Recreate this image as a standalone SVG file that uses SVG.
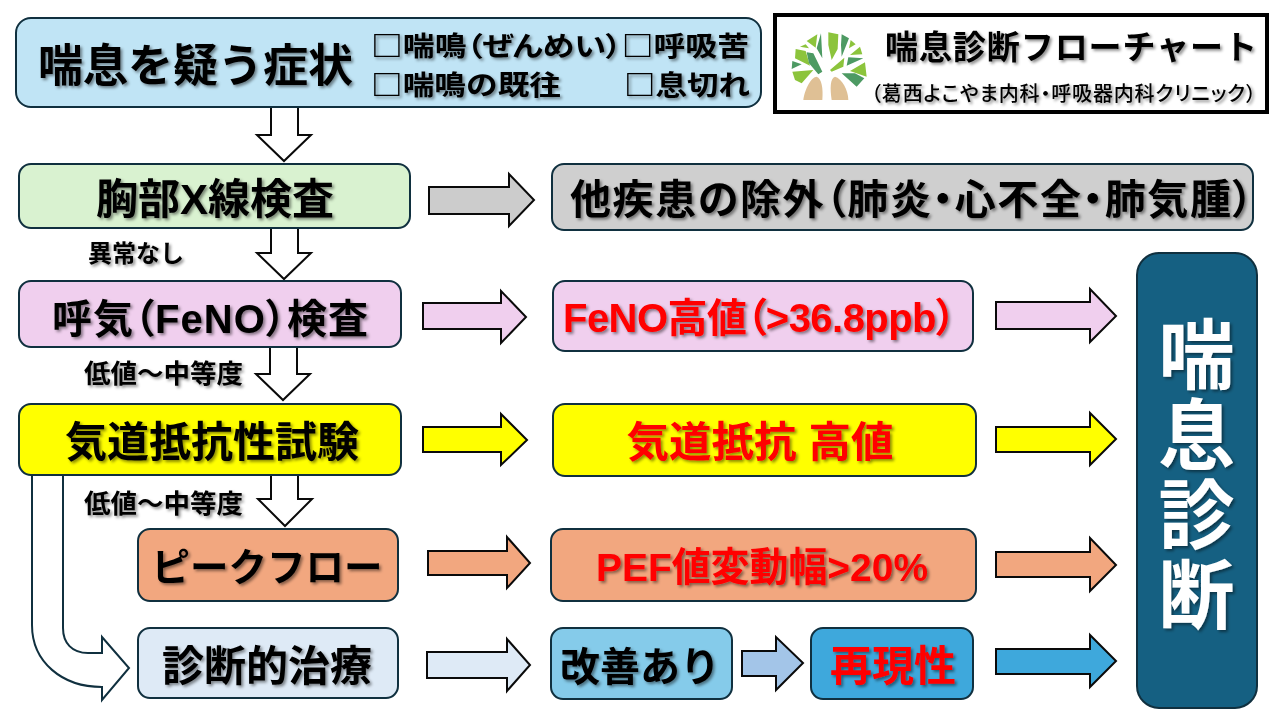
<svg xmlns="http://www.w3.org/2000/svg" width="1280" height="720" viewBox="0 0 1280 720">
<style>
text{font-family:"Liberation Sans","Noto Sans CJK JP","Noto Sans",sans-serif;font-weight:700;fill:#000;filter:url(#ts)}
.box{stroke:#10303f;stroke-width:2}
.ar{stroke:#0a0a0a;stroke-width:2}
.m{text-anchor:middle}
.p{font-feature-settings:"palt"}
.r{fill:#f00}
.w{fill:#fff}
.c{font-family:"Noto Sans CJK JP",sans-serif}
.lg{fill:#8cc43c}
.dg{fill:#4d9a63}
.tan{fill:#dfc095}
</style>
<defs>
<filter id="ts" x="-10%" y="-10%" width="120%" height="130%"><feDropShadow dx="2" dy="2" stdDeviation="1.5" flood-color="#000" flood-opacity=".45"/></filter>
</defs>
<rect width="1280" height="720" fill="#fff"/>
<g id="connectors">
<path class="ar" fill="#fff" d="M271 107H298V135H311L284 161L257 135H271Z"/>
<path class="ar" fill="#fff" d="M271 228H298V253H311L284 279L257 253H271Z"/>
<path class="ar" fill="#fff" d="M270 347H297V374H310L283 400L256 374H270Z"/>
<path class="ar" fill="#fff" d="M271 475H298V499H312L285 526L258 499H271Z"/>
<path class="ar" fill="#ccc" d="M429 187H509V174L534 200L509 226V214H429Z"/>
<path class="ar" fill="#f0cfee" d="M423 303H501V291L526 317L501 343V329H423Z"/>
<path class="ar" fill="#ffff00" d="M423 427H501V414L527 440L501 465V452H423Z"/>
<path class="ar" fill="#f2a77f" d="M428 551H507V537L530 563L507 588V575H428Z"/>
<path class="ar" fill="#deeaf6" d="M427 652H507V639L530 665L507 691V678H427Z"/>
<path class="ar" fill="#f0cfee" d="M996 302H1090V289L1116 316L1090 342V329H996Z"/>
<path class="ar" fill="#ffff00" d="M996 427H1090V413L1116 439L1090 465V452H996Z"/>
<path class="ar" fill="#f2a77f" d="M996 552H1090V538L1116 565L1090 591V577H996Z"/>
<path class="ar" fill="#3ea8dc" d="M996 649H1090V635L1116 661L1090 687V674H996Z"/>
<path class="ar" fill="#a3c5e8" d="M742 651H776V637L803 663L776 690V676H742Z"/>
<path class="box" fill="#fff" d="M32 475V625C32 662 62 687 102 687V700L129 668L102 637V653H88C72 653 63 643 63 628V475Z"/>
</g>
<g id="n-symptoms">
<rect class="box" x="16" y="18" width="745" height="89" rx="15" fill="#c0e4f5"/>
<text x="38" y="82" font-size="45">喘息を疑う症状</text>
<text class="p c" x="371" y="56" font-size="27" textLength="378" lengthAdjust="spacingAndGlyphs">□喘鳴（ぜんめい）□呼吸苦</text>
<text class="c" x="371" y="95" font-size="27" textLength="190" lengthAdjust="spacingAndGlyphs">□喘鳴の既往</text>
<text class="c" x="624" y="95" font-size="27" textLength="126" lengthAdjust="spacingAndGlyphs">□息切れ</text>
</g>
<g id="n-title">
<rect x="775" y="15" width="492" height="97" fill="#fff" stroke="#000" stroke-width="4"/>
<g id="logo" transform="translate(785 25) scale(.3333)">
<path class="lg" d="M65 48L97 28L92 68ZM130 22L160 28L158 72L140 105L130 60ZM197 45L212 58L192 70ZM195 90L225 65L232 88ZM45 65L62 58L72 70ZM32 72L62 78L75 122L30 100ZM22 140L85 135L50 175L30 165ZM178 98L135 135L140 140L175 125ZM240 112L245 155L195 138Z"/>
<path class="dg" d="M108 25L112 100L95 70ZM170 28L192 40L170 95L168 60ZM65 82L85 85L112 140L100 148L72 115ZM22 108L50 118L20 132ZM190 97L235 100L185 122ZM170 145L210 145L238 160L215 185Z"/>
<path class="tan" d="M55 225C60 190 80 155 95 155C110 160 115 190 112 225ZM140 225C135 190 135 160 150 155C170 160 190 195 190 225Z"/>
</g>
<text x="885" y="59" font-size="33" textLength="372" lengthAdjust="spacing">喘息診断フローチャート</text>
<text class="p" x="871" y="101" font-size="20" textLength="385" lengthAdjust="spacing" style="font-weight:500">（葛西よこやま内科・呼吸器内科クリニック）</text>
</g>
<g id="n-xray">
<rect class="box" x="19" y="164" width="391" height="64" rx="12" fill="#d9f2d0"/>
<text class="m" x="215" y="214" font-size="42">胸部X線検査</text>
</g>
<g id="n-exclude">
<rect class="box" x="552" y="164" width="701" height="66" rx="12" fill="#cfcfcf"/>
<text class="p" x="570" y="214" font-size="41" textLength="683" lengthAdjust="spacing">他疾患の除外（肺炎・心不全・肺気腫）</text>
</g>
<text x="88" y="262" font-size="24">異常なし</text>
<g id="n-feno">
<rect class="box" x="19" y="281" width="382" height="66" rx="12" fill="#f0cfee"/>
<text class="p" x="52" y="333" font-size="40" textLength="316" lengthAdjust="spacing">呼気（FeNO）検査</text>
</g>
<g id="n-feno-high">
<rect class="box" x="553" y="281" width="420" height="70" rx="12" fill="#f0cfee"/>
<text class="r p" x="563" y="332" font-size="40" textLength="393" lengthAdjust="spacing">FeNO高値（&gt;36.8ppb）</text>
</g>
<text x="84" y="383" font-size="26.500">低値～中等度</text>
<g id="n-resist">
<rect class="box" x="19" y="404" width="382" height="71" rx="12" fill="#ffff00"/>
<text class="m" x="212" y="457" font-size="42">気道抵抗性試験</text>
</g>
<g id="n-resist-high">
<rect class="box" x="553" y="404" width="423" height="72" rx="12" fill="#ffff00"/>
<text class="m r" x="760" y="457" font-size="42.500">気道抵抗 高値</text>
</g>
<text x="84" y="513" font-size="26.500">低値～中等度</text>
<g id="n-peak">
<rect class="box" x="138" y="529" width="260" height="72" rx="12" fill="#f2a77f"/>
<text class="m" x="267" y="581" font-size="38.500">ピークフロー</text>
</g>
<g id="n-pef">
<rect class="box" x="551" y="529" width="425" height="72" rx="12" fill="#f2a77f"/>
<text class="r" x="596" y="581" font-size="39.500" textLength="332" lengthAdjust="spacingAndGlyphs">PEF値変動幅&gt;20%</text>
</g>
<g id="n-treat">
<rect class="box" x="138" y="628" width="260" height="70" rx="12" fill="#deeaf6"/>
<text class="m" x="267" y="681" font-size="42">診断的治療</text>
</g>
<g id="n-improve">
<rect class="box" x="551" y="628" width="181" height="71" rx="12" fill="#85cbea"/>
<text class="m" x="640" y="681" font-size="40">改善あり</text>
</g>
<g id="n-repro">
<rect class="box" x="811" y="628" width="162" height="71" rx="12" fill="#3ea8dc"/>
<text class="m r" x="893" y="681" font-size="42">再現性</text>
</g>
<g id="n-diagnosis">
<rect class="box" x="1137" y="253" width="120" height="455" rx="22" fill="#156082"/>
<text class="w" x="1190" y="316" font-size="76" letter-spacing="4" style="writing-mode:vertical-rl">喘息診断</text>
</g>
</svg>
